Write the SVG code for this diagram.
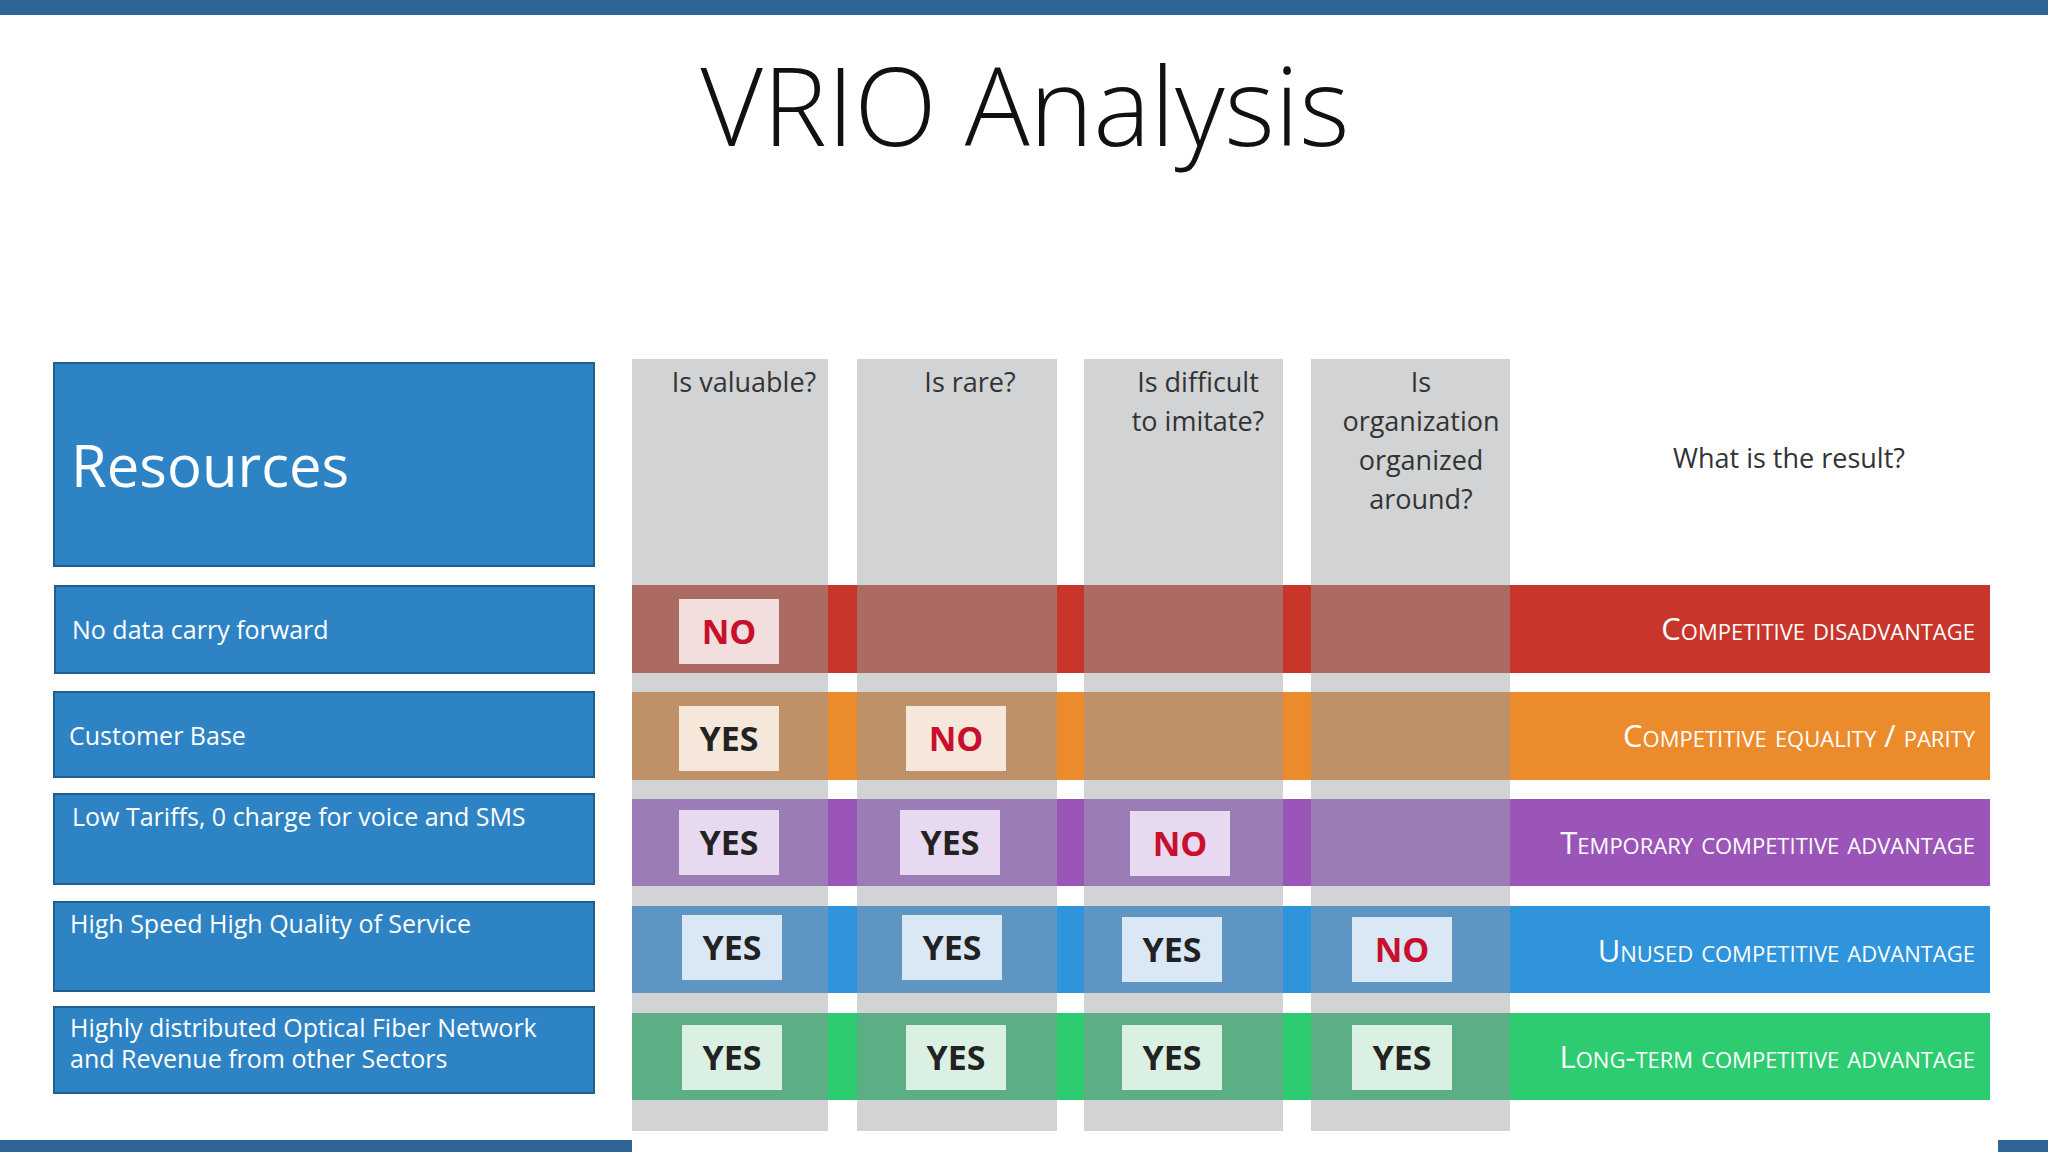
<svg xmlns="http://www.w3.org/2000/svg" width="2048" height="1152" viewBox="0 0 2048 1152">
<style>
.res{fill:#2E83C4;stroke:#1F5E8E;stroke-width:2}
.rt{font-family:"Open Sans","Noto Sans",sans-serif;fill:#fff;font-size:25px}
.hd{font-family:"Open Sans","Noto Sans",sans-serif;fill:#333;font-size:27px;text-anchor:middle}
.col{fill:#D1D3D4}
.yn{font-family:"Open Sans","Noto Sans",sans-serif;font-weight:bold;font-size:34px;text-anchor:middle}
.y{fill:#222}.n{fill:#C8102E}
.lab{font-family:"Open Sans","Noto Sans",sans-serif;fill:#fff;font-size:31px;text-anchor:end;font-variant:small-caps}
</style>
<rect width="2048" height="1152" fill="#fff"/>
<rect x="0" y="0" width="2048" height="15" fill="#2E6496"/>
<rect x="0" y="1140" width="632" height="12" fill="#2E6496"/>
<rect x="1998" y="1140" width="50" height="12" fill="#2E6496"/>
<text x="1025" y="146" font-family="Open Sans, Noto Sans, sans-serif" font-size="108" font-weight="300" text-anchor="middle" fill="#111">VRIO Analysis</text>

<g id="resources"><rect class="res" x="54" y="363" width="540" height="203"/><text x="71" y="487" font-family="Open Sans, Noto Sans, sans-serif" font-size="58" fill="#fff">Resources</text></g>
<g id="r1"><rect class="res" x="55" y="586" width="539" height="87"/><text class="rt" x="72" y="639">No data carry forward</text></g>
<g id="r2"><rect class="res" x="54" y="692" width="540" height="85"/><text class="rt" x="69" y="745">Customer Base</text></g>
<g id="r3"><rect class="res" x="54" y="794" width="540" height="90"/><text class="rt" x="72" y="826">Low Tariffs, 0 charge for voice and SMS</text></g>
<g id="r4"><rect class="res" x="54" y="902" width="540" height="89"/><text class="rt" x="70" y="933">High Speed High Quality of Service</text></g>
<g id="r5"><rect class="res" x="54" y="1007" width="540" height="86"/><text class="rt" x="70" y="1037">Highly distributed Optical Fiber Network</text><text class="rt" x="70" y="1068">and Revenue from other Sectors</text></g>

<g id="columns">
<rect class="col" x="632" y="359" width="196" height="772"/>
<rect class="col" x="857" y="359" width="200" height="772"/>
<rect class="col" x="1084" y="359" width="199" height="772"/>
<rect class="col" x="1311" y="359" width="199" height="772"/>
<text class="hd" x="744" y="392">Is valuable?</text>
<text class="hd" x="970" y="392">Is rare?</text>
<text class="hd" x="1198" y="392">Is difficult</text><text class="hd" x="1198" y="431">to imitate?</text>
<text class="hd" x="1421" y="392">Is</text><text class="hd" x="1421" y="431">organization</text><text class="hd" x="1421" y="470">organized</text><text class="hd" x="1421" y="509">around?</text>
<text class="hd" x="1789" y="468">What is the result?</text>
</g>

<g id="row1">
<rect x="632" y="585" width="1358" height="88" fill="#C8352B"/>
<g fill="#AB6B63"><rect x="632" y="585" width="196" height="88"/><rect x="857" y="585" width="200" height="88"/><rect x="1084" y="585" width="199" height="88"/><rect x="1311" y="585" width="199" height="88"/></g>
<rect x="679" y="599" width="100" height="65" fill="#F2DEDC"/><text class="yn n" x="729" y="644">NO</text>
<text class="lab" x="1975" y="640">Competitive disadvantage</text>
</g>
<g id="row2">
<rect x="632" y="692" width="1358" height="88" fill="#EC8B2C"/>
<g fill="#BE9169"><rect x="632" y="692" width="196" height="88"/><rect x="857" y="692" width="200" height="88"/><rect x="1084" y="692" width="199" height="88"/><rect x="1311" y="692" width="199" height="88"/></g>
<rect x="679" y="706" width="100" height="65" fill="#F5E8DA"/><text class="yn y" x="729" y="751">YES</text>
<rect x="906" y="706" width="100" height="65" fill="#F5E8DA"/><text class="yn n" x="956" y="751">NO</text>
<text class="lab" x="1975" y="747">Competitive equality / parity</text>
</g>
<g id="row3">
<rect x="632" y="799" width="1358" height="87" fill="#9B55B9"/>
<g fill="#9C7CB6"><rect x="632" y="799" width="196" height="87"/><rect x="857" y="799" width="200" height="87"/><rect x="1084" y="799" width="199" height="87"/><rect x="1311" y="799" width="199" height="87"/></g>
<rect x="679" y="810" width="100" height="65" fill="#E7DAF0"/><text class="yn y" x="729" y="855">YES</text>
<rect x="900" y="810" width="100" height="65" fill="#E7DAF0"/><text class="yn y" x="950" y="855">YES</text>
<rect x="1130" y="811" width="100" height="65" fill="#E7DAF0"/><text class="yn n" x="1180" y="856">NO</text>
<text class="lab" x="1975" y="854">Temporary competitive advantage</text>
</g>
<g id="row4">
<rect x="632" y="906" width="1358" height="87" fill="#2F94DC"/>
<g fill="#5F95C3"><rect x="632" y="906" width="196" height="87"/><rect x="857" y="906" width="200" height="87"/><rect x="1084" y="906" width="199" height="87"/><rect x="1311" y="906" width="199" height="87"/></g>
<rect x="682" y="915" width="100" height="65" fill="#D9E8F4"/><text class="yn y" x="732" y="960">YES</text>
<rect x="902" y="915" width="100" height="65" fill="#D9E8F4"/><text class="yn y" x="952" y="960">YES</text>
<rect x="1122" y="917" width="100" height="65" fill="#D9E8F4"/><text class="yn y" x="1172" y="962">YES</text>
<rect x="1352" y="917" width="100" height="65" fill="#D9E8F4"/><text class="yn n" x="1402" y="962">NO</text>
<text class="lab" x="1975" y="962">Unused competitive advantage</text>
</g>
<g id="row5">
<rect x="632" y="1013" width="1358" height="87" fill="#2ECC71"/>
<g fill="#5CAF85"><rect x="632" y="1013" width="196" height="87"/><rect x="857" y="1013" width="200" height="87"/><rect x="1084" y="1013" width="199" height="87"/><rect x="1311" y="1013" width="199" height="87"/></g>
<rect x="682" y="1025" width="100" height="65" fill="#DAF0E2"/><text class="yn y" x="732" y="1070">YES</text>
<rect x="906" y="1025" width="100" height="65" fill="#DAF0E2"/><text class="yn y" x="956" y="1070">YES</text>
<rect x="1122" y="1025" width="100" height="65" fill="#DAF0E2"/><text class="yn y" x="1172" y="1070">YES</text>
<rect x="1352" y="1025" width="100" height="65" fill="#DAF0E2"/><text class="yn y" x="1402" y="1070">YES</text>
<text class="lab" x="1975" y="1068">Long-term competitive advantage</text>
</g>
<g id="connectors"/>
</svg>
